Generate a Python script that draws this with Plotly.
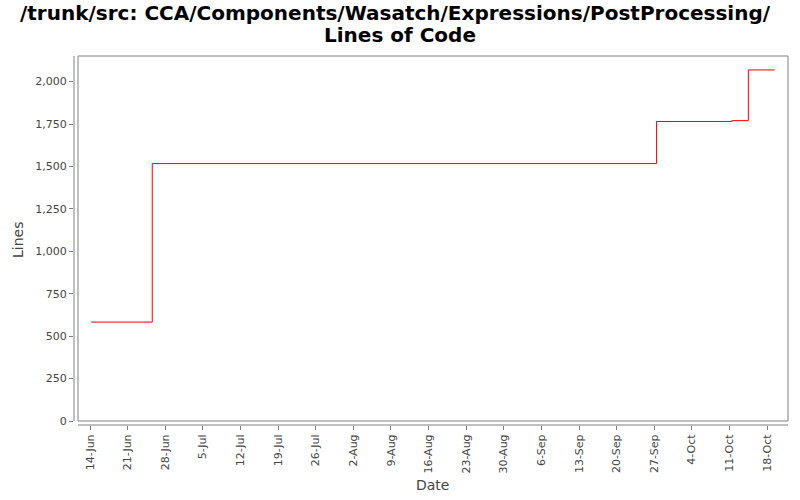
import plotly.graph_objects as go

# Step data (date of change, lines of code)
dates = ["2008-06-14 05:00", "2008-06-25 14:00", "2008-09-27 10:00",
         "2008-10-11 10:00", "2008-10-14 12:00", "2008-10-19 10:00"]
lines = [583, 1517, 1765, 1770, 2069, 2069]

title_line1 = "/trunk/src: CCA/Components/Wasatch/Expressions/PostProcessing/"
title_line2 = "Lines of Code"
x_title = "Date"
y_title = "Lines"
y_ticks = [0, 250, 500, 750, 1000, 1250, 1500, 1750, 2000]

fig = go.Figure()
fig.add_trace(go.Scatter(x=dates, y=lines, mode="lines",
                         line=dict(color="#ff0000", width=1, shape="hv"),
                         hoverinfo="skip"))

axis_gray = "#808080"
tick_font = dict(family="DejaVu Sans", size=11, color="#444444")

fig.update_layout(
    width=800, height=500,
    margin=dict(l=74, r=12, t=56, b=75, autoexpand=False),
    paper_bgcolor="white", plot_bgcolor="white",
    showlegend=False,
    xaxis=dict(type="date", range=["2008-06-11 00:30", "2008-10-21 21:00"],
               tick0="2008-06-14", dtick=7 * 86400000, tickformat="%-d-%b",
               tickangle=-90, ticks="outside", ticklen=4, tickcolor=axis_gray,
               showgrid=False, zeroline=False, showline=False,
               tickfont=tick_font, automargin=False),
    yaxis=dict(range=[-23.6, 2151], tickvals=y_ticks, tickformat=",d",
               ticks="outside", ticklen=4, tickcolor=axis_gray,
               showgrid=False, zeroline=False, showline=False,
               tickfont=tick_font, automargin=False),
)

# pixel -> paper coordinate helpers
W, H = 714.0, 369.0
def px(x):
    return (x - 74) / W
def py(y):
    return (425 - y) / H

# plot box and offset axis lines
fig.add_shape(type="rect", xref="paper", yref="paper",
              x0=px(78), x1=px(788), y0=py(421), y1=py(56),
              line=dict(color=axis_gray, width=1), layer="below")
fig.add_shape(type="line", xref="paper", yref="paper",
              x0=px(78), x1=px(788), y0=py(425), y1=py(425),
              line=dict(color=axis_gray, width=1))
fig.add_shape(type="line", xref="paper", yref="paper",
              x0=px(74), x1=px(74), y0=py(421), y1=py(56),
              line=dict(color=axis_gray, width=1))

title_font = dict(family="DejaVu Sans", size=20, color="black")
fig.add_annotation(text="<b>" + title_line1 + "</b>", xref="paper", yref="paper",
                   x=px(395), y=py(13), xanchor="center", yanchor="middle",
                   showarrow=False, font=title_font)
fig.add_annotation(text="<b>" + title_line2 + "</b>", xref="paper", yref="paper",
                   x=px(400), y=py(35), xanchor="center", yanchor="middle",
                   showarrow=False, font=title_font)

label_font = dict(family="DejaVu Sans", size=14, color="#444444")
fig.add_annotation(text=x_title, xref="paper", yref="paper",
                   x=px(432), y=py(485), xanchor="center", yanchor="middle",
                   showarrow=False, font=label_font)
fig.add_annotation(text=y_title, xref="paper", yref="paper",
                   x=px(18), y=py(240), xanchor="center", yanchor="middle",
                   textangle=-90, showarrow=False, font=label_font)

fig.write_html("out.html", config={"displayModeBar": False},
               post_script="document.body.style.margin='0';document.body.style.overflow='hidden';")
